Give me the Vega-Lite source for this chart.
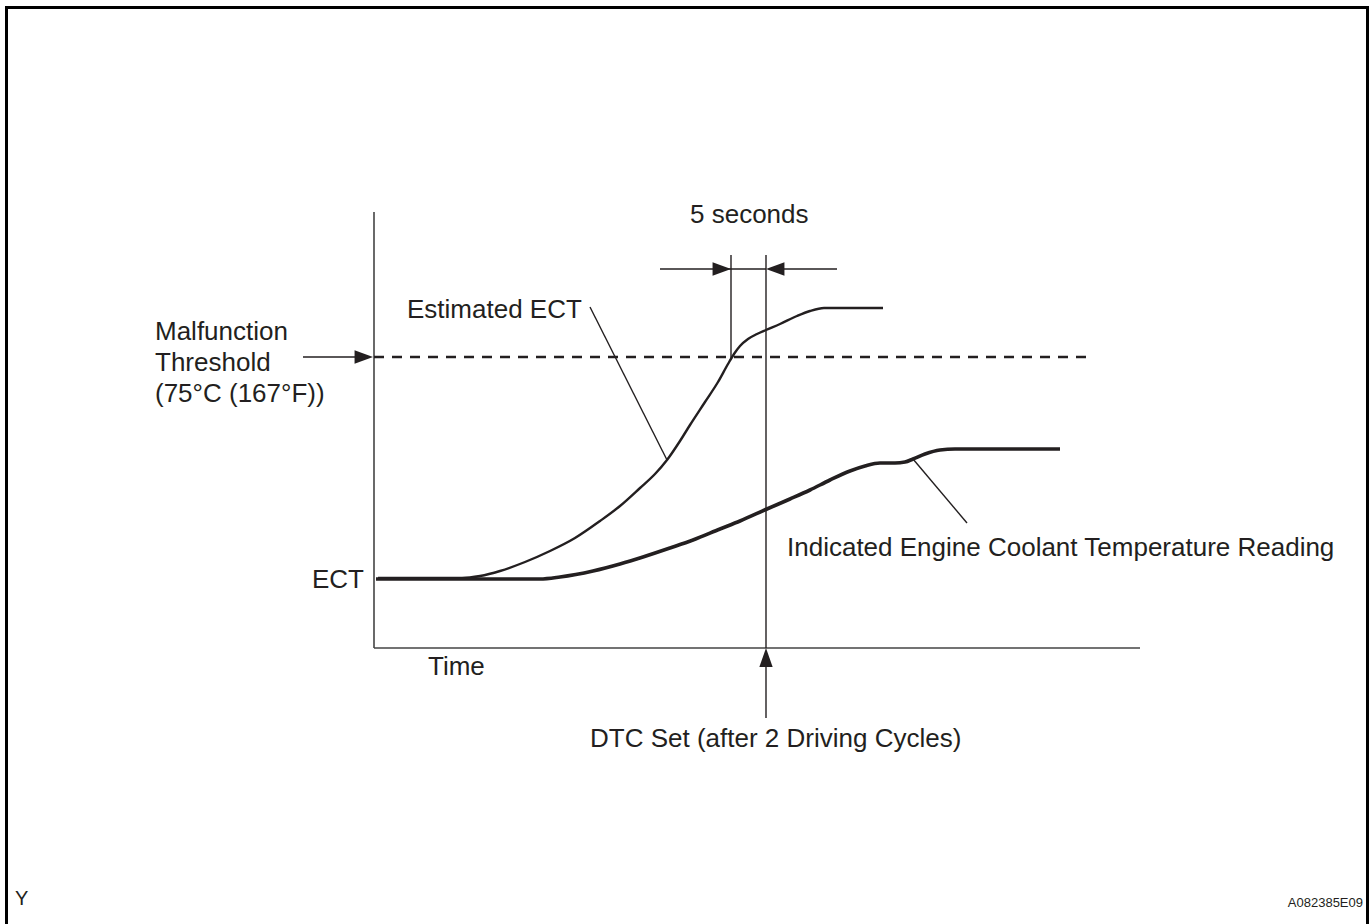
{
  "$schema": "https://vega.github.io/schema/vega-lite/v6.json",
  "width": 1372,
  "height": 924,
  "padding": 0,
  "autosize": {"type": "none"},
  "background": "white",
  "config": {"view": {"stroke": null}},
  "datasets": {
    "lines": [
      {"g": "frame", "s": "frame", "i": 0, "x": 6.5, "y": 924},
      {"g": "frame", "s": "frame", "i": 1, "x": 6.5, "y": 7.5},
      {"g": "frame", "s": "frame", "i": 2, "x": 1367.5, "y": 7.5},
      {"g": "frame", "s": "frame", "i": 3, "x": 1367.5, "y": 924},
      {"g": "axis", "s": "yaxis", "i": 0, "x": 374, "y": 212},
      {"g": "axis", "s": "yaxis", "i": 1, "x": 374, "y": 648},
      {"g": "axis", "s": "xaxis", "i": 0, "x": 374, "y": 648},
      {"g": "axis", "s": "xaxis", "i": 1, "x": 1140, "y": 648},
      {"g": "dash", "s": "threshold", "i": 0, "x": 374, "y": 357},
      {"g": "dash", "s": "threshold", "i": 1, "x": 1090, "y": 357},
      {"g": "thin", "s": "threshArrow", "i": 0, "x": 303, "y": 357},
      {"g": "thin", "s": "threshArrow", "i": 1, "x": 360, "y": 357},
      {"g": "thin", "s": "dimLeft", "i": 0, "x": 660, "y": 269},
      {"g": "thin", "s": "dimLeft", "i": 1, "x": 766, "y": 269},
      {"g": "thin", "s": "dimRight", "i": 0, "x": 780, "y": 269},
      {"g": "thin", "s": "dimRight", "i": 1, "x": 837, "y": 269},
      {"g": "thin", "s": "vert1", "i": 0, "x": 731, "y": 255},
      {"g": "thin", "s": "vert1", "i": 1, "x": 731, "y": 358},
      {"g": "thin", "s": "vert2", "i": 0, "x": 766, "y": 255},
      {"g": "thin", "s": "vert2", "i": 1, "x": 766, "y": 648},
      {"g": "thin", "s": "dtc", "i": 0, "x": 766, "y": 662},
      {"g": "thin", "s": "dtc", "i": 1, "x": 766, "y": 718},
      {"g": "thin", "s": "ptrEst", "i": 0, "x": 590, "y": 307},
      {"g": "thin", "s": "ptrEst", "i": 1, "x": 667, "y": 460},
      {"g": "thin", "s": "ptrInd", "i": 0, "x": 913, "y": 459},
      {"g": "thin", "s": "ptrInd", "i": 1, "x": 967, "y": 523},
      {"g": "est", "s": "est", "i": 0, "x": 378, "y": 578},
      {"g": "est", "s": "est", "i": 1, "x": 462, "y": 578},
      {"g": "est", "s": "est", "i": 2, "x": 480, "y": 576},
      {"g": "est", "s": "est", "i": 3, "x": 500, "y": 571},
      {"g": "est", "s": "est", "i": 4, "x": 525, "y": 562},
      {"g": "est", "s": "est", "i": 5, "x": 550, "y": 551},
      {"g": "est", "s": "est", "i": 6, "x": 575, "y": 538},
      {"g": "est", "s": "est", "i": 7, "x": 600, "y": 521},
      {"g": "est", "s": "est", "i": 8, "x": 620, "y": 506},
      {"g": "est", "s": "est", "i": 9, "x": 640, "y": 488},
      {"g": "est", "s": "est", "i": 10, "x": 655, "y": 474},
      {"g": "est", "s": "est", "i": 11, "x": 667, "y": 460},
      {"g": "est", "s": "est", "i": 12, "x": 680, "y": 441},
      {"g": "est", "s": "est", "i": 13, "x": 690, "y": 425},
      {"g": "est", "s": "est", "i": 14, "x": 705, "y": 402},
      {"g": "est", "s": "est", "i": 15, "x": 718, "y": 382},
      {"g": "est", "s": "est", "i": 16, "x": 728, "y": 364},
      {"g": "est", "s": "est", "i": 17, "x": 734, "y": 354},
      {"g": "est", "s": "est", "i": 18, "x": 740, "y": 346},
      {"g": "est", "s": "est", "i": 19, "x": 748, "y": 339},
      {"g": "est", "s": "est", "i": 20, "x": 757, "y": 334},
      {"g": "est", "s": "est", "i": 21, "x": 766, "y": 330},
      {"g": "est", "s": "est", "i": 22, "x": 780, "y": 324},
      {"g": "est", "s": "est", "i": 23, "x": 797, "y": 316},
      {"g": "est", "s": "est", "i": 24, "x": 810, "y": 311},
      {"g": "est", "s": "est", "i": 25, "x": 824, "y": 308},
      {"g": "est", "s": "est", "i": 26, "x": 883, "y": 308},
      {"g": "ind", "s": "ind", "i": 0, "x": 376, "y": 579},
      {"g": "ind", "s": "ind", "i": 1, "x": 540, "y": 579},
      {"g": "ind", "s": "ind", "i": 2, "x": 560, "y": 577},
      {"g": "ind", "s": "ind", "i": 3, "x": 593, "y": 571},
      {"g": "ind", "s": "ind", "i": 4, "x": 620, "y": 564},
      {"g": "ind", "s": "ind", "i": 5, "x": 643, "y": 557},
      {"g": "ind", "s": "ind", "i": 6, "x": 670, "y": 548},
      {"g": "ind", "s": "ind", "i": 7, "x": 693, "y": 540},
      {"g": "ind", "s": "ind", "i": 8, "x": 720, "y": 529},
      {"g": "ind", "s": "ind", "i": 9, "x": 740, "y": 521},
      {"g": "ind", "s": "ind", "i": 10, "x": 767, "y": 509},
      {"g": "ind", "s": "ind", "i": 11, "x": 790, "y": 499},
      {"g": "ind", "s": "ind", "i": 12, "x": 810, "y": 490},
      {"g": "ind", "s": "ind", "i": 13, "x": 830, "y": 480},
      {"g": "ind", "s": "ind", "i": 14, "x": 850, "y": 471},
      {"g": "ind", "s": "ind", "i": 15, "x": 865, "y": 466},
      {"g": "ind", "s": "ind", "i": 16, "x": 880, "y": 463},
      {"g": "ind", "s": "ind", "i": 17, "x": 895, "y": 463},
      {"g": "ind", "s": "ind", "i": 18, "x": 905, "y": 462},
      {"g": "ind", "s": "ind", "i": 19, "x": 913, "y": 459},
      {"g": "ind", "s": "ind", "i": 20, "x": 925, "y": 454},
      {"g": "ind", "s": "ind", "i": 21, "x": 940, "y": 450},
      {"g": "ind", "s": "ind", "i": 22, "x": 955, "y": 449},
      {"g": "ind", "s": "ind", "i": 23, "x": 1060, "y": 449}
    ],
    "heads": [
      {"dir": "right", "x": 373, "y": 357},
      {"dir": "right", "x": 731, "y": 269},
      {"dir": "left", "x": 766, "y": 269},
      {"dir": "up", "x": 766, "y": 648}
    ],
    "labels": [
      {"k": "main", "x": 155, "y": 340, "t": "Malfunction"},
      {"k": "main", "x": 155, "y": 371, "t": "Threshold"},
      {"k": "main", "x": 155, "y": 402, "t": "(75°C (167°F))"},
      {"k": "main", "x": 407, "y": 318, "t": "Estimated ECT"},
      {"k": "main", "x": 690, "y": 223, "t": "5 seconds"},
      {"k": "main", "x": 312, "y": 588, "t": "ECT"},
      {"k": "main", "x": 428, "y": 675, "t": "Time"},
      {"k": "main", "x": 590, "y": 747, "t": "DTC Set (after 2 Driving Cycles)"},
      {"k": "main", "x": 787, "y": 556, "t": "Indicated Engine Coolant Temperature Reading"},
      {"k": "corner", "x": 15, "y": 905, "t": "Y"},
      {"k": "code", "x": 1363, "y": 907, "t": "A082385E09"}
    ]
  },
  "encoding": {
    "x": {"field": "x", "type": "quantitative", "scale": {"domain": [0, 1372], "nice": false, "zero": false}, "axis": null},
    "y": {"field": "y", "type": "quantitative", "scale": {"domain": [0, 924], "nice": false, "zero": false, "reverse": true}, "axis": null}
  },
  "layer": [
    {
      "data": {"name": "lines"},
      "transform": [{"filter": "datum.g == 'frame'"}],
      "mark": {"type": "line", "color": "#000000", "strokeWidth": 3, "clip": false},
      "encoding": {"detail": {"field": "s"}, "order": {"field": "i", "type": "quantitative"}}
    },
    {
      "data": {"name": "lines"},
      "transform": [{"filter": "datum.g == 'axis'"}],
      "mark": {"type": "line", "color": "#444444", "strokeWidth": 1.6},
      "encoding": {"detail": {"field": "s"}, "order": {"field": "i", "type": "quantitative"}}
    },
    {
      "data": {"name": "lines"},
      "transform": [{"filter": "datum.g == 'dash'"}],
      "mark": {"type": "line", "color": "#231f20", "strokeWidth": 2.5, "strokeDash": [10, 8]},
      "encoding": {"detail": {"field": "s"}, "order": {"field": "i", "type": "quantitative"}}
    },
    {
      "data": {"name": "lines"},
      "transform": [{"filter": "datum.g == 'thin'"}],
      "mark": {"type": "line", "color": "#231f20", "strokeWidth": 1.4},
      "encoding": {"detail": {"field": "s"}, "order": {"field": "i", "type": "quantitative"}}
    },
    {
      "data": {"name": "lines"},
      "transform": [{"filter": "datum.g == 'est'"}],
      "mark": {"type": "line", "color": "#231f20", "strokeWidth": 2.4, "interpolate": "monotone"},
      "encoding": {"detail": {"field": "s"}, "order": {"field": "i", "type": "quantitative"}}
    },
    {
      "data": {"name": "lines"},
      "transform": [{"filter": "datum.g == 'ind'"}],
      "mark": {"type": "line", "color": "#231f20", "strokeWidth": 3.6, "interpolate": "monotone"},
      "encoding": {"detail": {"field": "s"}, "order": {"field": "i", "type": "quantitative"}}
    },
    {
      "data": {"name": "heads"},
      "transform": [{"filter": "datum.dir == 'right'"}],
      "mark": {"type": "point", "shape": "M0,0L-2,-0.72L-2,0.72Z", "filled": true, "size": 340, "color": "#231f20", "opacity": 1, "strokeWidth": 0}
    },
    {
      "data": {"name": "heads"},
      "transform": [{"filter": "datum.dir == 'left'"}],
      "mark": {"type": "point", "shape": "M0,0L2,-0.72L2,0.72Z", "filled": true, "size": 340, "color": "#231f20", "opacity": 1, "strokeWidth": 0}
    },
    {
      "data": {"name": "heads"},
      "transform": [{"filter": "datum.dir == 'up'"}],
      "mark": {"type": "point", "shape": "M0,0L-0.7,2L0.7,2Z", "filled": true, "size": 361, "color": "#231f20", "opacity": 1, "strokeWidth": 0}
    },
    {
      "data": {"name": "labels"},
      "transform": [{"filter": "datum.k == 'main'"}],
      "mark": {"type": "text", "align": "left", "baseline": "alphabetic", "font": "Liberation Sans", "fontSize": 26, "color": "#231f20"},
      "encoding": {"text": {"field": "t"}}
    },
    {
      "data": {"name": "labels"},
      "transform": [{"filter": "datum.k == 'corner'"}],
      "mark": {"type": "text", "align": "left", "baseline": "alphabetic", "font": "Liberation Sans", "fontSize": 20, "color": "#231f20"},
      "encoding": {"text": {"field": "t"}}
    },
    {
      "data": {"name": "labels"},
      "transform": [{"filter": "datum.k == 'code'"}],
      "mark": {"type": "text", "align": "right", "baseline": "alphabetic", "font": "Liberation Sans", "fontSize": 13, "color": "#231f20"},
      "encoding": {"text": {"field": "t"}}
    }
  ]
}
